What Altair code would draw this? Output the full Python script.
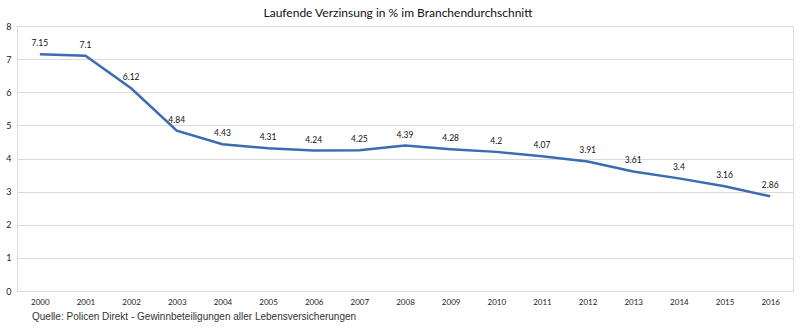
import altair as alt
import pandas as pd

years = [str(y) for y in range(2000, 2017)]
values = [7.15, 7.1, 6.12, 4.84, 4.43, 4.31, 4.24, 4.25, 4.39, 4.28, 4.2, 4.07, 3.91, 3.61, 3.4, 3.16, 2.86]
title_text = "Laufende Verzinsung in % im Branchendurchschnitt"
source_text = "Quelle: Policen Direkt - Gewinnbeteiligungen aller Lebensversicherungen"

df = pd.DataFrame({"Jahr": years, "Wert": values})

W, H = 776, 265

x = alt.X("Jahr:N", sort=years, title=None,
          scale=alt.Scale(paddingInner=1, paddingOuter=0.5),
          axis=alt.Axis(labelAngle=0, ticks=False, domain=False, grid=False,
                        labelFont="Lato", labelFontSize=8, labelColor="#222222",
                        labelPadding=7))
y = alt.Y("Wert:Q", title=None,
          scale=alt.Scale(domain=[0, 8], nice=False),
          axis=alt.Axis(values=list(range(0, 9)), ticks=False, domain=False,
                        gridColor="#d9d9d9", gridWidth=1,
                        labelFont="Lato", labelFontSize=9, labelColor="#222222",
                        labelPadding=6))

base = alt.Chart(df)
line = base.mark_line(color="#3B6BB3", strokeWidth=2.5).encode(x=x, y=y)
labels = base.mark_text(dy=-11, font="Lato", fontSize=8.5, color="#111111").encode(
    x=x, y=y, text=alt.Text("Wert:Q", format="~g"))

title = alt.Chart(pd.DataFrame({"t": [title_text]})).mark_text(
    font="Lato", fontSize=12, color="#111111", align="center", baseline="middle"
).encode(x=alt.value(W / 2 - 7), y=alt.value(-13), text="t:N")

source = alt.Chart(pd.DataFrame({"t": [source_text]})).mark_text(
    font="Liberation Sans", fontSize=10, color="#333333", align="left", baseline="middle"
).encode(x=alt.value(15), y=alt.value(H + 26), text="t:N")

chart = alt.layer(line, labels, title, source).properties(
    width=W, height=H,
    autosize=alt.AutoSizeParams(type="none"),
    padding={"left": 17, "top": 26, "right": 7, "bottom": 37},
).configure_view(stroke=None).configure(background="white")

chart.save("out.html", embed_options={"renderer": "svg", "actions": False})
